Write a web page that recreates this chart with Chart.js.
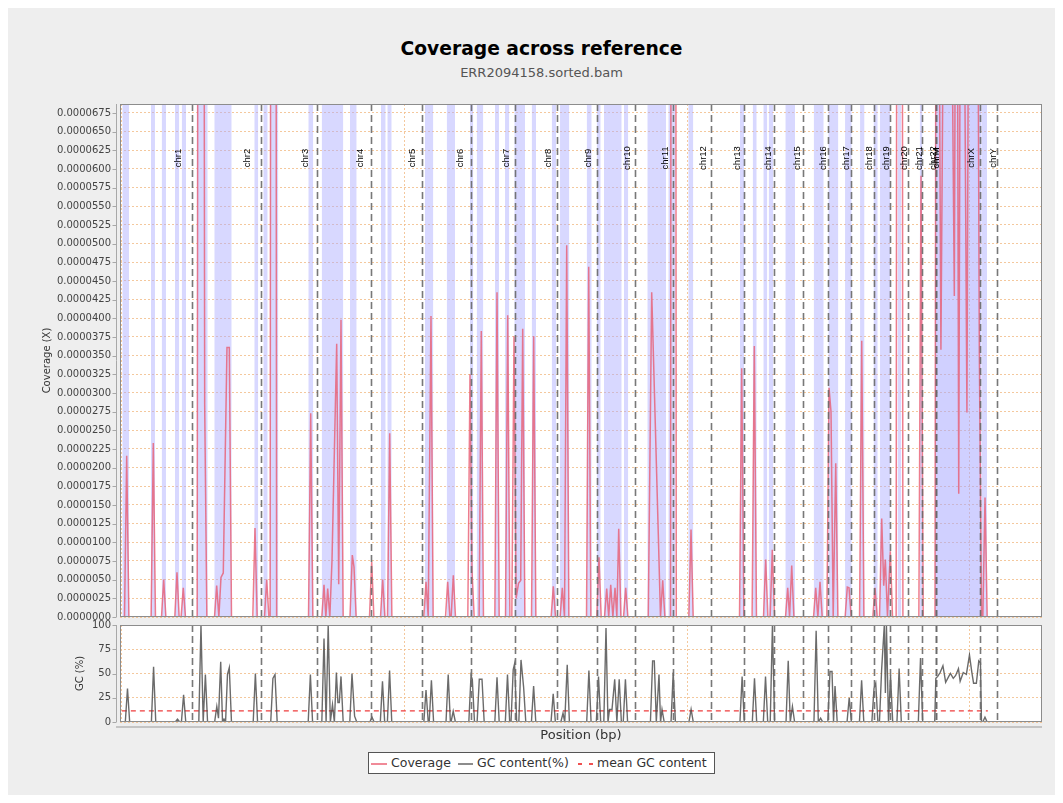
<!DOCTYPE html>
<html>
<head>
<meta charset="utf-8">
<title>Coverage across reference</title>
<script src="https://cdn.jsdelivr.net/npm/chart.js@4.4.1/dist/chart.umd.min.js"></script>
<style>
  html, body { margin: 0; padding: 0; background: #ffffff; }
  body { width: 1063px; height: 803px; position: relative; overflow: hidden; font-family: "DejaVu Sans", sans-serif; }
  #panel { position: absolute; left: 8px; top: 8px; width: 1047px; height: 787px; background: #eeeeee; }
  .center { position: absolute; left: 28px; width: 1027px; text-align: center; line-height: 1; white-space: nowrap; }
  #title { top: 40px; font-size: 18.7px; font-weight: bold; color: #000; }
  #subtitle { top: 66px; font-size: 13px; color: #555; }
  canvas { position: absolute; left: 0; }
  #covChart { top: 0; }
  #gcChart { top: 612px; }
  #xlabel { position: absolute; left: 120px; width: 922px; top: 728px; text-align: center; font-size: 13px; line-height: 1; color: #333; }
  #legend { position: absolute; left: 368px; top: 752px; width: 347px; height: 22px; box-sizing: border-box; border: 1px solid #555; background: #fff; }
  #legend .txt { position: absolute; top: 4px; font-size: 12.5px; line-height: 1; color: #333; white-space: nowrap; }
  #legend .ln { position: absolute; top: 10px; height: 2px; }
</style>
</head>
<body>
<div id="panel"></div>
<div id="title" class="center">Coverage across reference</div>
<div id="subtitle" class="center">ERR2094158.sorted.bam</div>
<canvas id="covChart" width="1063" height="630"></canvas>
<canvas id="gcChart" width="1063" height="118"></canvas>
<div id="xlabel">Position (bp)</div>
<div id="legend">
  <div class="ln" style="left:2px;width:16px;background:#f08a98;"></div>
  <div class="txt" style="left:22px;">Coverage</div>
  <div class="ln" style="left:89px;width:15px;background:#8c8c8c;"></div>
  <div class="txt" style="left:108px;">GC content(%)</div>
  <div class="ln" style="left:209px;width:4px;background:#f05050;"></div>
  <div class="ln" style="left:220px;width:4px;background:#f05050;"></div>
  <div class="txt" style="left:228px;">mean GC content</div>
</div>

<script>
// Reference sequences (hg19) and their lengths in Mb, in plotting order
const chromNames = ['chr1','chr2','chr3','chr4','chr5','chr6','chr7','chr8','chr9','chr10',
  'chr11','chr12','chr13','chr14','chr15','chr16','chr17','chr18','chr19','chr20',
  'chr21','chr22','chrM','chrX','chrY'];
const chromLenMb = [249.25, 243.20, 198.02, 191.15, 180.92, 171.12, 159.14, 146.36, 141.21, 135.53,
  135.01, 133.85, 115.17, 107.35, 102.53, 90.35, 81.20, 78.08, 59.13, 63.03,
  48.13, 51.30, 0.017, 155.27, 59.37];

// Coverage per window: position along the concatenated reference (Mb) and coverage (X)
const covPos = [0, 9.5, 17.2, 25.0, 103.6, 111.3, 119.0, 140.4, 148.1, 155.8,
  187.4, 195.1, 202.8, 209.7, 217.4, 225.1, 266.5, 274.7, 283.6, 293.1,
  300.8, 327.9, 335.6, 343.3, 350.8, 358.9, 372.0, 380.2, 388.0, 463.4,
  471.1, 478.8, 504.8, 512.5, 520.2, 524.6, 532.3, 540.0, 547.7, 660.5,
  668.2, 675.9, 707.6, 715.3, 721.8, 728.3, 735.9, 743.6, 760.2, 767.3,
  775.4, 783.1, 807.2, 815.4, 821.4, 829.0, 876.3, 884.0, 891.7, 915.2,
  922.9, 930.6, 940.0, 947.7, 955.4, 1068.5, 1076.2, 1084.0, 1093.8, 1101.5,
  1145.2, 1152.9, 1160.6, 1165.1, 1172.8, 1180.5, 1224.1, 1231.8, 1238.9, 1246.6,
  1264.1, 1271.8, 1279.5, 1319.7, 1327.4, 1335.1, 1357.5, 1365.2, 1372.9, 1379.8,
  1387.5, 1395.0, 1403.5, 1411.2, 1418.3, 1426.0, 1449.5, 1457.2, 1464.9, 1518.9,
  1526.6, 1534.3, 1550.7, 1558.4, 1566.2, 1574.0, 1581.7, 1644.1, 1651.8, 1659.5,
  1680.5, 1688.2, 1695.9, 1707.8, 1715.5, 1722.6, 1729.7, 1737.3, 1744.9, 1751.4,
  1758.0, 1765.7, 1775.0, 1782.7, 1790.4, 1862.5, 1874.7, 1898.1, 1905.8, 1913.6,
  1921.3, 1941.3, 1949.0, 1954.0, 1961.7, 2006.1, 2013.8, 2021.5, 2185.4, 2193.1,
  2200.8, 2230.0, 2237.7, 2245.4, 2270.3, 2278.0, 2285.7, 2293.7, 2301.4, 2309.1,
  2348.2, 2355.9, 2362.5, 2370.1, 2377.8, 2447.3, 2455.0, 2462.6, 2470.2, 2477.9,
  2494.4, 2502.1, 2509.1, 2516.8, 2525.8, 2533.5, 2559.1, 2566.8, 2572.8, 2580.5,
  2610.1, 2617.8, 2625.5, 2657.1, 2664.8, 2672.5, 2680.8, 2688.5, 2695.6, 2701.3,
  2708.9, 2719.0, 2726.7, 2739.6, 2747.3, 2755.8, 2763.5, 2819.9, 2827.6, 2835.3,
  2877.0, 2882.4, 2898.0, 2913.6, 2930.2, 2945.4, 2953.2, 2961.0, 2969.1, 2978.0,
  2990.0, 3001.0, 3011.6, 3022.2, 3033.9, 3041.7, 3046.3, 3054.0, 3061.7, 3095.7];
const covVal = [0, 0, 21.6e-6, 0, 0, 23.3e-6, 0, 0, 5.0e-6, 0,
  0, 6.0e-6, 0, 0, 3.9e-6, 0, 0, 300e-6, 300e-6, 28.5e-6,
  0, 0, 4.2e-6, 0, 5.3e-6, 5.9e-6, 36.1e-6, 36.1e-6, 0, 0,
  11.9e-6, 0, 0, 5.0e-6, 0, 0, 350e-6, 350e-6, 0, 0,
  27.3e-6, 0, 0, 4.3e-6, 0, 3.8e-6, 0, 7.6e-6, 36.6e-6, 4.4e-6,
  39.8e-6, 0, 0, 8.3e-6, 6.7e-6, 0, 0, 7.4e-6, 0, 0,
  5.0e-6, 0, 0, 24.6e-6, 0, 0, 4.7e-6, 0, 40.3e-6, 0,
  0, 4.7e-6, 0, 0, 5.6e-6, 0, 0, 32.5e-6, 6.2e-6, 0,
  0, 38.3e-6, 0, 0, 43.5e-6, 0, 0, 40.4e-6, 0, 0,
  37.6e-6, 2.5e-6, 4.5e-6, 4.9e-6, 38.6e-6, 0, 0, 37.6e-6, 0, 0,
  4.1e-6, 0, 0, 3.9e-6, 0, 49.8e-6, 0, 0, 46.9e-6, 0,
  0, 8.0e-6, 0, 0, 3.8e-6, 0, 4.3e-6, 0, 3.9e-6, 0,
  11.8e-6, 0, 0, 3.9e-6, 0, 0, 43.5e-6, 11.0e-6, 0, 4.9e-6,
  0, 0, 400e-6, 400e-6, 0, 0, 11.7e-6, 0, 0, 33.3e-6,
  0, 0, 36.3e-6, 0, 0, 7.7e-6, 0, 0, 9.0e-6, 0,
  0, 3.9e-6, 0, 6.9e-6, 0, 0, 3.9e-6, 0, 4.7e-6, 0,
  0, 30.7e-6, 27.5e-6, 0, 20.6e-6, 0, 0, 4.0e-6, 3.9e-6, 0,
  0, 37.0e-6, 0, 0, 3.9e-6, 0, 0, 13.2e-6, 4.2e-6, 7.7e-6,
  0, 8.8e-6, 0, 0, 350e-6, 350e-6, 0, 0, 59.1e-6, 0,
  0, 150e-6, 35.8e-6, 120e-6, 110e-6, 43.0e-6, 130e-6, 16.5e-6, 120e-6, 100e-6,
  27.4e-6, 140e-6, 110e-6, 150e-6, 35.3e-6, 0, 0, 16.0e-6, 0, 0];

// Shaded deviation bands (start and end, Mb)
const bandStart = [1.6, 103.1, 141.0, 188.1, 211.8, 264.8, 327.1, 468.6, 500.5, 524.2,
  659.7, 707.1, 807.2, 916.9, 939.2, 1072.6, 1149.4, 1231.8, 1255.5, 1320.3,
  1355.7, 1388.6, 1450.1, 1520.9, 1550.3, 1644.7, 1680.1, 1705.9, 1776.7, 1859.1,
  1933.4, 2004.2, 2187.1, 2232.1, 2269.6, 2288.7, 2347.5, 2447.9, 2499.6, 2558.7,
  2611.8, 2659.5, 2682.5, 2744.4, 2822.9, 2877.1, 3040.5];
const bandEnd = [25.3, 117.3, 156.2, 203.3, 227.0, 303.8, 388.7, 482.8, 516.0, 553.6,
  677.4, 783.5, 830.9, 933.5, 954.8, 1102.0, 1178.8, 1243.5, 1278.9, 1334.4,
  1370.9, 1426.4, 1465.4, 1536.1, 1583.2, 1662.4, 1694.3, 1768.6, 1791.9, 1925.3,
  1957.2, 2021.9, 2201.3, 2246.2, 2283.7, 2305.0, 2381.8, 2483.3, 2535.0, 2582.4,
  2627.7, 2674.4, 2719.0, 2757.9, 2832.8, 3040.5, 3061.1];
// overlapping deviation over the continuously covered chrX stretch
const denseBandStart = [2877.1];
const denseBandEnd = [3040.5];

// GC content per window (%)
const gcPos = [0, 12.3, 20.0, 27.7, 104.6, 112.3, 120.0, 189.2, 196.9, 204.6,
  210.8, 218.5, 226.2, 272.3, 280.0, 287.8, 295.6, 303.3, 328.3, 336.0,
  342.0, 349.8, 356.0, 361.4, 367.0, 373.8, 380.2, 387.9, 464.8, 472.5,
  480.2, 526.8, 534.5, 541.9, 549.6, 659.4, 667.1, 674.8, 707.6, 715.3,
  722.7, 730.1, 737.7, 745.3, 752.0, 759.1, 764.5, 769.4, 775.4, 783.1,
  806.6, 814.3, 823.5, 831.2, 877.4, 885.1, 892.8, 914.5, 922.2, 929.9,
  939.6, 947.3, 955.0, 1068.5, 1076.2, 1084.0, 1087.6, 1095.3, 1103.0, 1147.0,
  1154.7, 1162.4, 1164.7, 1172.4, 1180.1, 1227.7, 1235.4, 1240.0, 1247.7, 1257.0,
  1264.7, 1274.3, 1282.0, 1319.7, 1327.4, 1335.1, 1356.8, 1364.5, 1372.2, 1377.0,
  1384.7, 1389.6, 1397.0, 1404.6, 1412.3, 1421.5, 1429.2, 1449.2, 1456.9, 1464.6,
  1518.5, 1526.2, 1533.9, 1553.2, 1560.9, 1567.0, 1575.8, 1583.5, 1644.8, 1652.5,
  1660.2, 1678.8, 1686.5, 1694.2, 1705.3, 1713.0, 1720.0, 1725.4, 1734.3, 1743.8,
  1751.5, 1759.7, 1767.4, 1774.0, 1781.7, 1789.4, 1870.2, 1877.9, 1883.9, 1891.0,
  1900.5, 1906.0, 1911.2, 1918.9, 1943.1, 1950.8, 1958.5, 2006.4, 2014.1, 2021.8,
  2186.9, 2194.6, 2202.3, 2230.7, 2238.4, 2246.1, 2269.7, 2277.4, 2285.1, 2294.1,
  2301.8, 2309.5, 2350.0, 2357.7, 2365.0, 2372.6, 2380.3, 2448.8, 2456.5, 2464.2,
  2472.3, 2480.0, 2497.9, 2505.6, 2512.7, 2518.0, 2523.3, 2531.0, 2565.8, 2573.5,
  2581.2, 2609.7, 2617.4, 2625.1, 2653.6, 2661.3, 2667.3, 2675.0, 2680.5, 2688.2,
  2697.7, 2701.5, 2705.2, 2712.5, 2719.7, 2727.4, 2742.4, 2750.1, 2757.8, 2818.1,
  2825.8, 2833.5, 2876.0, 2880.0, 2886.7, 2895.2, 2905.1, 2914.7, 2925.7, 2931.7,
  2941.6, 2950.1, 2960.0, 2966.0, 2977.0, 2988.0, 2999.0, 3007.5, 3013.5, 3023.4,
  3031.9, 3037.9, 3041.4, 3046.1, 3053.8, 3061.5, 3095.7];
const gcVal = [0, 0, 34.5, 0, 0, 57, 0, 0, 3, 0,
  0, 28, 0, 0, 100, 0, 49, 0, 0, 16,
  4, 62, 2, 3, 0, 49, 56, 0, 0, 50,
  0, 0, 45, 49, 0, 0, 49, 0, 0, 86,
  0, 100, 0, 18, 0, 51, 20, 20, 47, 0,
  0, 50, 6, 0, 0, 5, 0, 0, 42, 0,
  0, 53, 0, 0, 33, 0, 0, 43, 0, 0,
  49, 0, 0, 11, 0, 0, 48, 44, 0, 0,
  44, 44, 0, 0, 46, 0, 0, 49, 0, 0,
  54, 60, 0, 0, 64, 36, 0, 0, 37, 0,
  0, 29, 0, 0, 9, 0, 59, 0, 0, 53,
  0, 0, 47, 0, 0, 97, 0, 13, 13, 44,
  0, 44, 0, 0, 44, 0, 0, 63, 63, 0,
  49, 0, 13, 0, 0, 51, 0, 0, 13, 0,
  0, 47, 0, 0, 45, 0, 0, 47, 0, 0,
  99, 0, 0, 63, 0, 16, 0, 0, 94, 0,
  4, 0, 0, 52, 52, 0, 37, 0, 0, 25,
  0, 0, 43, 0, 0, 35, 40, 0, 0, 54,
  100, 30, 100, 0, 48, 0, 0, 55, 0, 0,
  66, 0, 0, 45, 47, 51, 58, 41, 47, 50,
  45, 48, 55, 42, 51, 49, 69, 51, 40, 40,
  63, 61, 0, 0, 5, 0, 0];

const meanGC = 11.5;
const meanGCSpan = [0, 3064];

// Axis ranges and tick labels
const xRange = [-6.5, 3255.6];
const xGridMb = [0, 1000, 2000, 3000];
const covMax = 0.0000687;
const covTicks = Array.from({ length: 28 }, (_, i) => i * 0.0000025);
const gcTicks = [0, 25, 50, 75, 100];

const FONT = '"DejaVu Sans", sans-serif';
const GRID = 'rgba(242, 190, 140, 0.85)';

// chromosome end positions (cumulative)
const chromEnd = [];
chromLenMb.reduce((acc, len) => { chromEnd.push(acc + len); return acc + len; }, 0);
const chromLabelPos = chromLenMb.map((len, i) => chromEnd[i] - 0.2 * len);

// rectangles spanning the full plot height for each [start, end]
const bandPoints = (starts, ends) => starts.flatMap((s, i) => [
  { x: s, y: covMax }, { x: ends[i], y: covMax }, { x: ends[i], y: null }
]);

// white plot background, frame, offset axis line with tick marks
const plotFrame = {
  id: 'plotFrame',
  beforeDraw(chart) {
    const { ctx, chartArea: a } = chart;
    ctx.save();
    ctx.fillStyle = '#ffffff';
    ctx.fillRect(a.left, a.top, a.right - a.left, a.bottom - a.top);
    ctx.restore();
  },
  afterDraw(chart, args, opts) {
    const { ctx, chartArea: a } = chart;
    const y = chart.scales.y;
    ctx.save();
    ctx.strokeStyle = '#8c8c8c';
    ctx.lineWidth = 1;
    ctx.strokeRect(a.left + 0.5, a.top + 0.5, a.right - a.left - 1, a.bottom - a.top - 1);
    ctx.strokeStyle = '#a8a8a8';
    ctx.beginPath();
    ctx.moveTo(a.left - 3.5, a.top);
    ctx.lineTo(a.left - 3.5, a.bottom);
    y.ticks.forEach(t => {
      const py = Math.round(y.getPixelForValue(t.value)) + 0.5;
      ctx.moveTo(a.left - 7.5, py);
      ctx.lineTo(a.left - 3.5, py);
    });
    ctx.stroke();
    if (opts.baseAxis) {
      ctx.strokeStyle = '#c4c4c4';
      ctx.lineWidth = 2;
      ctx.beginPath();
      ctx.moveTo(a.left - 4, a.bottom + 5);
      ctx.lineTo(a.right, a.bottom + 5);
      ctx.stroke();
    }
    ctx.restore();
  }
};

// dashed chromosome boundaries and rotated chromosome names
const chromMarkers = {
  id: 'chromMarkers',
  afterDatasetsDraw(chart, args, opts) {
    const { ctx, chartArea: a } = chart;
    const x = chart.scales.x;
    ctx.save();
    ctx.beginPath();
    ctx.rect(a.left, a.top, a.right - a.left, a.bottom - a.top);
    ctx.clip();
    ctx.strokeStyle = 'rgba(105, 105, 105, 0.9)';
    ctx.lineWidth = 1.6;
    ctx.setLineDash([7, 4]);
    chromEnd.forEach(v => {
      const px = Math.round(x.getPixelForValue(v)) + 0.5;
      ctx.beginPath();
      ctx.moveTo(px, a.top);
      ctx.lineTo(px, a.bottom);
      ctx.stroke();
    });
    ctx.setLineDash([]);
    if (opts.labels) {
      ctx.fillStyle = '#000';
      ctx.font = '9.5px "Liberation Sans", sans-serif';
      ctx.textAlign = 'center';
      ctx.textBaseline = 'middle';
      chromNames.forEach((name, i) => {
        ctx.save();
        ctx.translate(x.getPixelForValue(chromLabelPos[i]), a.top + 54);
        ctx.rotate(-Math.PI / 2);
        ctx.fillText(name, 0, 0);
        ctx.restore();
      });
    }
    ctx.restore();
  }
};

const xScale = {
  type: 'linear',
  min: xRange[0],
  max: xRange[1],
  afterBuildTicks: s => { s.ticks = xGridMb.map(v => ({ value: v })); },
  afterFit: s => { s.height = 0; s.paddingLeft = 0; s.paddingRight = 0; },
  ticks: { display: false },
  grid: { color: GRID, lineWidth: 1, drawTicks: false },
  border: { display: false, dash: [2, 2] }
};

function yScale(min, max, ticks, fmt, titleText, titlePad) {
  return {
    type: 'linear',
    min, max,
    afterBuildTicks: s => { s.ticks = ticks.map(v => ({ value: v })); },
    // fixed axis width; tick labels may overhang the plot edges
    afterFit: s => { s.width = 120; s.paddingTop = 0; s.paddingBottom = 0; },
    ticks: { callback: fmt, padding: 9, color: '#444', font: { family: FONT, size: 10 } },
    grid: { color: GRID, lineWidth: 1, drawTicks: false },
    border: { display: false, dash: [2, 2] },
    title: { display: true, text: titleText, color: '#333', font: { family: FONT, size: 10 },
      padding: { top: titlePad, bottom: 0 } }
  };
}

const commonOpts = {
  responsive: false,
  animation: false,
  devicePixelRatio: 1,
  events: [],
  elements: { point: { radius: 0 }, line: { tension: 0 } }
};

new Chart(document.getElementById('covChart'), {
  type: 'line',
  data: {
    datasets: [
      {
        label: 'Coverage',
        data: covPos.map((x, i) => ({ x, y: covVal[i] })),
        borderColor: 'rgba(232, 88, 110, 0.78)',
        borderWidth: 1.5,
        fill: false
      },
      {
        label: 'deviation',
        data: bandPoints(bandStart, bandEnd),
        borderWidth: 0,
        borderColor: 'rgba(0,0,0,0)',
        backgroundColor: 'rgba(170, 170, 255, 0.46)',
        fill: 'origin',
        spanGaps: false
      },
      {
        label: 'deviation (overlap)',
        data: bandPoints(denseBandStart, denseBandEnd),
        borderWidth: 0,
        borderColor: 'rgba(0,0,0,0)',
        backgroundColor: 'rgba(150, 150, 255, 0.14)',
        fill: 'origin',
        spanGaps: false
      }
    ]
  },
  options: {
    ...commonOpts,
    layout: { padding: { top: 104, bottom: 13, left: 0, right: 21 } },
    scales: {
      x: xScale,
      y: yScale(0, covMax, covTicks, v => v.toFixed(7), 'Coverage (X)', 41)
    },
    plugins: {
      legend: { display: false },
      tooltip: { enabled: false },
      chromMarkers: { labels: true },
      plotFrame: { baseAxis: false }
    }
  },
  plugins: [plotFrame, chromMarkers]
});

new Chart(document.getElementById('gcChart'), {
  type: 'line',
  data: {
    datasets: [
      {
        label: 'GC content(%)',
        data: gcPos.map((x, i) => ({ x, y: gcVal[i] })),
        borderColor: 'rgba(70, 70, 70, 0.8)',
        borderWidth: 1.4,
        fill: false
      },
      {
        label: 'mean GC content',
        data: meanGCSpan.map(x => ({ x, y: meanGC })),
        borderColor: 'rgb(238, 60, 60)',
        borderWidth: 1.2,
        borderDash: [5, 4],
        fill: false
      }
    ]
  },
  options: {
    ...commonOpts,
    layout: { padding: { top: 13, bottom: 8, left: 0, right: 21 } },
    scales: {
      x: xScale,
      y: yScale(0, 100, gcTicks, v => String(v), 'GC (%)', 74)
    },
    plugins: {
      legend: { display: false },
      tooltip: { enabled: false },
      chromMarkers: { labels: false },
      plotFrame: { baseAxis: true }
    }
  },
  plugins: [plotFrame, chromMarkers]
});
</script>
</body>
</html>
